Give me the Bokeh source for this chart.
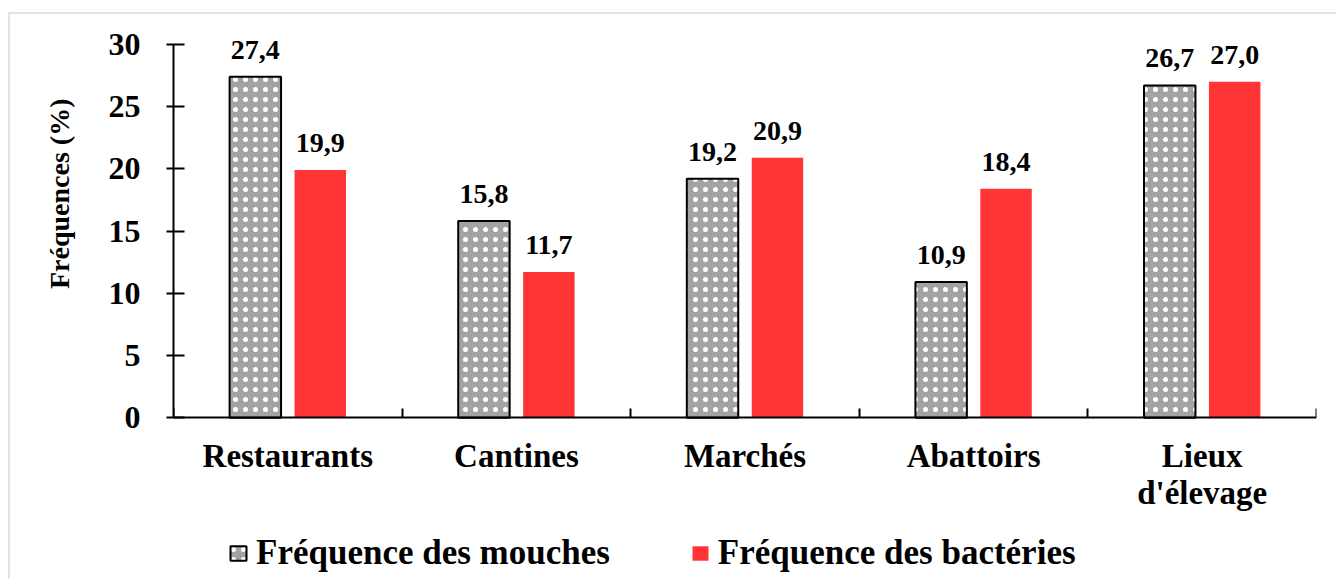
from bokeh.plotting import figure
from bokeh.models import (Range1d, FixedTicker, LinearAxis, ColumnDataSource, LabelSet,
                          Legend, LegendItem, Title)
from bokeh.embed import file_html
from bokeh.resources import INLINE

categories = ["Restaurants", "Cantines", "Marchés", "Abattoirs", "Lieux d'élevage"]
category_labels = ["Restaurants", "Cantines", "Marchés", "Abattoirs", "Lieux\nd'élevage"]
mouches = [27.4, 15.8, 19.2, 10.9, 26.7]
bacteries = [19.9, 11.7, 20.9, 18.4, 27.0]
mouches_text = ["27,4", "15,8", "19,2", "10,9", "26,7"]
bacteries_text = ["19,9", "11,7", "20,9", "18,4", "27,0"]
y_ticks = [0, 5, 10, 15, 20, 25, 30]

FONT = "Liberation Serif"
GRAY = "#a3a3a3"
RED = "#ff3535"

n = len(categories)
centers = [i + 0.5 for i in range(n)]
bounds_ticks = [i for i in range(n + 1)]
off = 0.142
bw = 0.225

src_m = ColumnDataSource(dict(x=[c - off for c in centers], top=mouches, t=mouches_text))
src_b = ColumnDataSource(dict(x=[c + off for c in centers], top=bacteries, t=bacteries_text))

line1 = [lab.split("\n")[0] for lab in category_labels]
sec = [(c, lab.split("\n")[1]) for c, lab in zip(centers, category_labels) if "\n" in lab]
src_c1 = ColumnDataSource(dict(x=centers, y=[0] * n, t=line1))
src_c2 = ColumnDataSource(dict(x=[s[0] for s in sec], y=[0] * len(sec), t=[s[1] for s in sec]))

p = figure(frame_width=1143, frame_height=560, output_backend="svg", toolbar_location=None,
           x_range=Range1d(0, n), y_range=Range1d(-13, 32),
           min_border_left=163, min_border_right=20, min_border_top=5, min_border_bottom=0,
           x_axis_type=None, y_axis_type=None)
p.outline_line_color = None
p.xgrid.visible = False
p.ygrid.visible = False
p.styles = {"margin-left": "8px", "margin-top": "12px",
            "border-left": "2px solid #e3e3e3", "border-top": "2px solid #e3e3e3"}

rm = p.vbar(x="x", top="top", width=bw, source=src_m, fill_color=GRAY, line_color="black",
            line_width=2, hatch_pattern="dot", hatch_color="white", hatch_scale=10,
            hatch_weight=1.2)
rb = p.vbar(x="x", top="top", width=bw, source=src_b, fill_color=RED, line_color=None)

for src in (src_m, src_b):
    p.add_layout(LabelSet(x="x", y="top", text="t", source=src, text_align="center",
                          text_baseline="middle", y_offset=27, text_font=FONT,
                          text_font_style="bold", text_font_size="28px", text_color="black"))

for src, yo in ((src_c1, -38), (src_c2, -75)):
    p.add_layout(LabelSet(x="x", y="y", text="t", source=src, text_align="center",
                          text_baseline="middle", y_offset=yo, text_font=FONT,
                          text_font_style="bold", text_font_size="33px", text_color="black"))

yaxis = LinearAxis(ticker=FixedTicker(ticks=y_ticks), bounds=(0, 30))
yaxis.axis_line_width = 2
yaxis.major_tick_line_width = 2
yaxis.major_tick_in = 11
yaxis.major_tick_out = 7
yaxis.minor_tick_line_color = None
yaxis.major_label_standoff = 26
yaxis.major_label_text_font = FONT
yaxis.major_label_text_font_style = "bold"
yaxis.major_label_text_font_size = "32px"
yaxis.major_label_text_color = "black"
p.add_layout(yaxis, "left")

ytitle = Title(text="Fréquences (%)", align="right", offset=79, standoff=62,
               text_font=FONT, text_font_style="bold", text_font_size="28px",
               text_color="black")
p.add_layout(ytitle, "left")

xaxis = LinearAxis(ticker=FixedTicker(ticks=[], minor_ticks=bounds_ticks),
                   fixed_location=0)
xaxis.axis_line_width = 2
xaxis.major_tick_line_color = None
xaxis.major_tick_in = 0
xaxis.major_tick_out = 0
xaxis.minor_tick_line_width = 2
xaxis.minor_tick_in = 9
xaxis.minor_tick_out = 0
xaxis.major_label_standoff = 0
p.add_layout(xaxis, "below")

legend = Legend(items=[LegendItem(label="Fréquence des mouches", renderers=[rm]),
                       LegendItem(label="Fréquence des bactéries", renderers=[rb])],
                orientation="horizontal", location=(55, 6), border_line_color=None,
                background_fill_alpha=0, label_text_font=FONT, label_text_font_style="bold",
                label_text_font_size="35px", label_text_color="black",
                glyph_width=20, glyph_height=18, spacing=80,
                label_standoff=8, margin=0, padding=4)
p.add_layout(legend, "center")

open("out.html", "w").write(file_html(p, INLINE))
